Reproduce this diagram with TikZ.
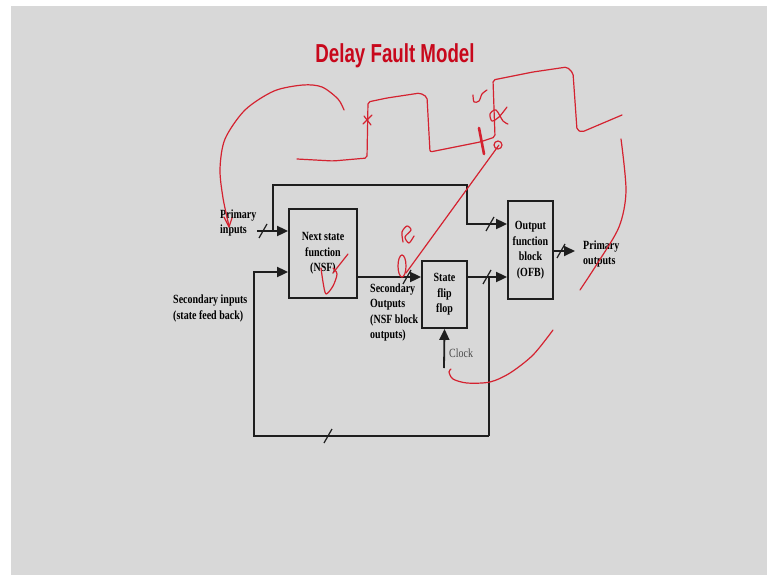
\documentclass[tikz,border=0pt]{standalone}
\usepackage{fontspec}
\usepackage{tikz}
\usetikzlibrary{arrows.meta}
\newfontfamily\titlefont[FakeStretch=0.72]{Liberation Sans}
\newfontfamily\lblfont[FakeStretch=0.8]{Liberation Serif}
\definecolor{slide}{RGB}{216,216,216}
\definecolor{titlered}{RGB}{200,8,28}
\definecolor{penred}{RGB}{212,34,48}
\definecolor{wire}{RGB}{30,30,30}
\tikzset{
  blk/.style={draw=wire, line width=1.8pt, inner sep=0pt, align=center,
    font=\lblfont\bfseries\fontsize{12.5}{15.5}\selectfont},
  lbl/.style={inner sep=0pt, align=left, anchor=west,
    font=\lblfont\bfseries\fontsize{12.5}{15.5}\selectfont},
  wireline/.style={draw=wire, line width=1.8pt},
  arr/.style={wireline, -{Triangle[length=11pt,width=10pt]}},
  bus/.style={draw=wire, line width=1.2pt},
  pen/.style={draw=penred, line width=1.2pt, line cap=round, line join=round},
}

\begin{document}
\begin{tikzpicture}[x=1pt,y=-1pt]
\useasboundingbox (0,0) rectangle (767,575);
\fill[white] (0,0) rectangle (767,575);
\fill[slide] (11,6) rectangle (767,575);

\node[anchor=base, text=titlered, font=\titlefont\bfseries\fontsize{26}{26}\selectfont] (title) at (395,63) {Delay Fault Model};

% blocks
\node[blk, minimum width=68pt, minimum height=89pt] (nsf) at (323,253.5) {Next state\\function\\(NSF)};
\node[blk, minimum width=45pt, minimum height=67pt] (ff) at (444.5,294.5) {State\\flip\\flop};
\node[blk, minimum width=45pt, minimum height=98pt] (ofb) at (530.5,250) {Output\\function\\block\\(OFB)};

% labels
\node[lbl] (pin) at (220,223) {Primary\\inputs};
\node[lbl] (sin) at (173,308.5) {Secondary inputs\\(state feed back)};
\node[lbl] (sout) at (370,312.5) {Secondary\\Outputs\\(NSF block\\outputs)};
\node[lbl] (pout) at (583,254) {Primary\\outputs};
\node[lbl, text=wire!80, font=\lblfont\fontsize{12.5}{15.5}\selectfont] (clk) at (449,353) {Clock};

% wires
\coordinate (inl) at (257,231);
\coordinate (tap) at (273,231);
\coordinate (topl) at (273,185);
\coordinate (topr) at (467,185);
\coordinate (ofbtop) at (467,224);
\coordinate (so) at (357,277);
\coordinate (fbtap) at (489,277);
\coordinate (fbr) at (489,436);
\coordinate (fbl) at (254,436);
\coordinate (fbin) at (254,272);
\coordinate (outr) at (575,251);
\coordinate (clkin) at (444,368);

\draw[arr] (inl) -- (nsf.west |- inl);
\draw[arr] (tap) -- (topl) -- (topr) -- (ofbtop) -- (ofb.west |- ofbtop);
\draw[arr] (fbr) -- (fbl) -- (fbin) -- (nsf.west |- fbin);
\draw[arr] (nsf.east |- so) -- (ff.west |- so);
\draw[arr] (ff.east |- so) -- (ofb.west |- so);
\draw[wireline] (fbtap) -- (fbr);
\draw[arr] (ofb.east |- outr) -- (outr);
\draw[arr] (clkin) -- (ff.south);

\foreach \bx/\by in {263/231, 490/224, 487/277, 407/277, 328/436, 561/251}
  \draw[bus] (\bx-4,\by+7) -- (\bx+4,\by-7);

% pen marks
\draw[pen] plot[smooth] coordinates {(344,110) (338,99) (322,87) (303,85) (274,91) (245,110) (225,139) (220,169) (223,198) (229,226)};
\draw[pen] (224,217) -- (229,227) -- (232,218);
\draw[pen, rounded corners=2pt] (297,159) -- (333,161) -- (367,158) -- (368,102) -- (387,98) -- (420,93) -- (427,97)
  -- (430,152) -- (480,142) -- (495,137) -- (493,80) -- (533,72) -- (567,67) -- (573,73) -- (577,130) -- (582,132) -- (622,115);
\draw[pen] (363,124) -- (372,115) (364,116) -- (371,125);
\draw[pen, line width=2.6pt] (479,128) -- (484,154);
\draw[pen] plot[smooth] coordinates {(507,107) (499,117) (492,121) (490,114) (496,110) (503,121) (508,124)};
\draw[pen] plot[smooth] coordinates {(473,95) (474,102) (479,101) (482,94) (487,90)};
\draw[pen] (498,145) circle (4pt);
\draw[pen] (499,145) -- (406,273);
\draw[pen] (402,266) ellipse [x radius=4, y radius=11];
\draw[pen] plot[smooth] coordinates {(403,242) (402,232) (407,226) (411,230) (405,237) (409,243) (414,236)};
\draw[pen] plot[smooth] coordinates {(621,139) (626,191) (619,227) (597,264) (580,290)};
\draw[pen] plot[smooth] coordinates {(553,330) (533,355) (510,373) (490,382) (467,383) (453,379) (449,372) (451,369)};
\draw[pen] (348,254) -- (333,273);
\draw[pen] plot[smooth] coordinates {(321,268) (323,282) (326,294) (333,286) (337,274) (333,268)};
\end{tikzpicture}
\end{document}
